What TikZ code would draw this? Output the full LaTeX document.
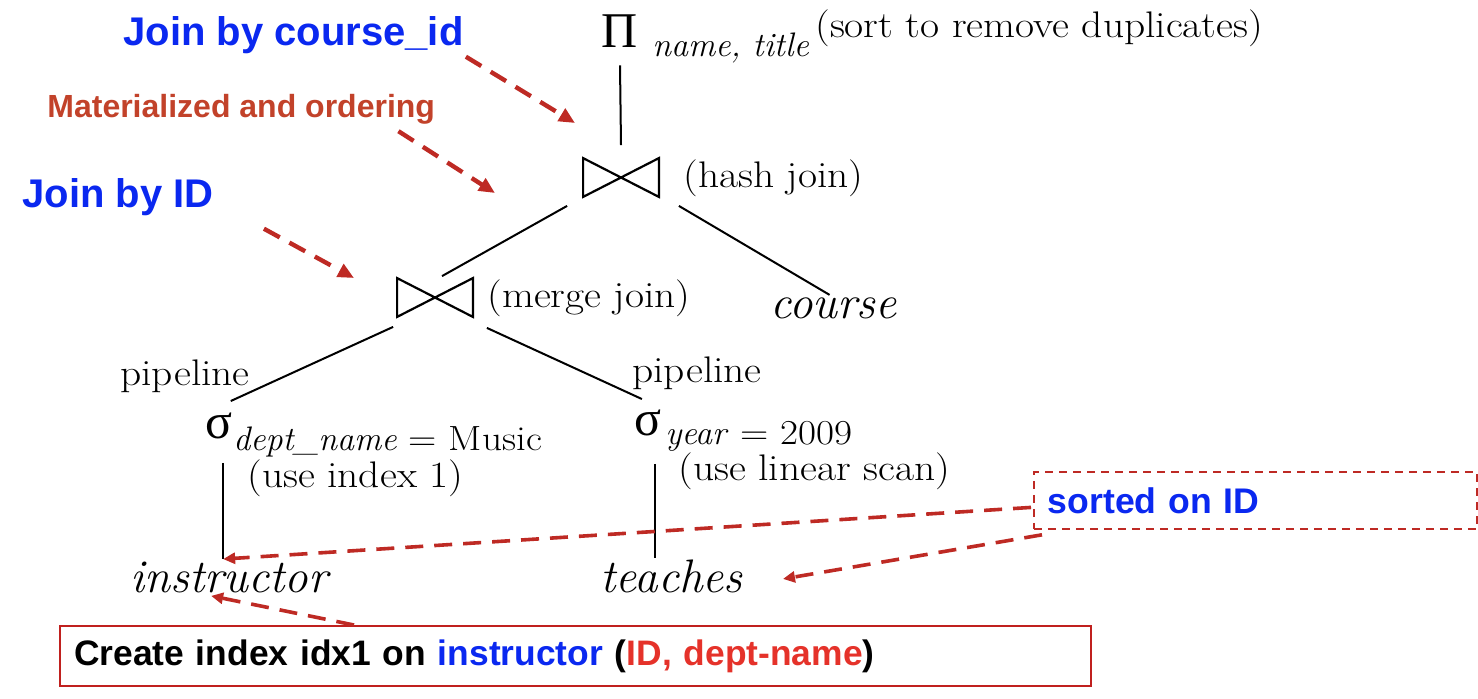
\documentclass[tikz,border=0pt]{standalone}
\usepackage{fontspec}
\newfontfamily\hvfont{Liberation Sans}
\newfontfamily\grfont{Liberation Serif}
\newfontfamily\widefont{Latin Modern Roman}[FakeStretch=1.12]
\usetikzlibrary{arrows.meta}
\definecolor{noteblue}{HTML}{0A28F0}
\definecolor{notebrown}{HTML}{C2422A}
\definecolor{hintred}{HTML}{BE2A24}
\definecolor{idred}{HTML}{E5322A}
\definecolor{boxred}{HTML}{C0201E}
\tikzset{
  note/.style={inner sep=0pt, text=#1, font=\hvfont\bfseries\fontsize{20}{24}\selectfont},
  note/.default=noteblue,
  lbl/.style={inner sep=0pt, font=\widefont\fontsize{18.5}{22}\selectfont},
  sub/.style={inner sep=0pt, font=\fontsize{17}{20}\selectfont},
  rel/.style={inner sep=0pt, font=\itshape\fontsize{23.5}{28}\selectfont},
  op/.style={inner sep=0pt, font=\grfont\fontsize{25}{30}\selectfont},
  joinop/.style={inner sep=0pt, minimum width=37.5pt, minimum height=19pt},
  opline/.style={line width=1.1pt, line join=miter},
  tree/.style={line width=1pt},
  hint/.style={draw=hintred, line width=2.2pt, dash pattern=on 9pt off 5.5pt,
               -{Triangle[length=8pt, width=7pt]}},
  hintb/.style={hint, line width=1.8pt, -{Triangle[length=6pt, width=5.5pt]}},
  cmdbox/.style={draw=boxred, line width=1pt, inner xsep=7pt, text width=501.5pt,
                 minimum height=30pt, align=left,
                 font=\hvfont\bfseries\fontsize{17.7}{22}\selectfont},
  sortbox/.style={draw=hintred, line width=0.9pt, dash pattern=on 4pt off 3pt,
                  inner xsep=7pt, text width=207.5pt, minimum height=28.5pt, align=left,
                  text=noteblue, font=\hvfont\bfseries\fontsize{17.8}{22}\selectfont},
}
\newcommand{\condtext}[2]{\textit{#1}{\widefont\fontsize{17.5}{20}\selectfont{} = #2}}
\begin{document}
\begin{tikzpicture}[x=0.5pt, y=-0.5pt]
  \useasboundingbox (0,0) rectangle (1478,698);

  % projection
  \node[op, anchor=base] (proj) at (620,47) {Π};
  \node[sub, anchor=base west] (projattr) at (652,56) {\textit{name, title}};
  \node[lbl, anchor=base west] (projnote) at (815,37) {(sort to remove duplicates)};

  % joins
  \node[joinop] (hj) at (621,177.5) {};
  \node[lbl, anchor=base west] (hjlbl) at (683,187) {(hash join)};
  \node[joinop] (mj) at (435,297.5) {};
  \node[lbl, anchor=base west] (mjlbl) at (487,307) {(merge join)};
  \foreach \j in {hj,mj}
    \draw[opline] (\j.north west) -- (\j.south east) -- (\j.north east) -- (\j.south west) -- cycle;
  \node[rel, anchor=base west] (course) at (770,318) {course};

  % selections
  \node[lbl, anchor=base west] (pipe1) at (120,385) {pipeline};
  \node[lbl, anchor=base west] (pipe2) at (632,382) {pipeline};
  \node[op, anchor=base west] (sel1) at (205,438) {σ};
  \node[sub, anchor=base west] (cond1) at (233,450) {\condtext{dept\_name}{Music}};
  \node[lbl, anchor=base west] (how1) at (247,487) {(use index 1)};
  \node[op, anchor=base west] (sel2) at (634,435) {σ};
  \node[sub, anchor=base west] (cond2) at (665,444) {\condtext{year}{2009}};
  \node[lbl, anchor=base west] (how2) at (678,480) {(use linear scan)};

  % relations
  \node[rel, anchor=base west] (inst) at (130,592) {instructor};
  \node[rel, anchor=base west] (teaches) at (600,592) {teaches};

  % tree edges
  \draw[tree] ([shift={(0,18)}]proj.south) -- ([shift={(0,-13)}]hj.north);
  \draw[tree] ([shift={(-16,9)}]hj.south west) -- ([shift={(7,-2)}]mj.north);
  \draw[tree] ([shift={(20,9)}]hj.south east) -- ([shift={(-4,-2)}]course.north);
  \draw[tree] ([shift={(-4,10)}]mj.south west) -- ([shift={(-2,-11)}]sel1.north east);
  \draw[tree] ([shift={(14,11)}]mj.south east) -- ([shift={(-6,-10)}]sel2.north);
  \draw[tree] ([shift={(4,24)}]sel1.south) -- ([shift={(4,-2)}]sel1.south |- inst.north);
  \draw[tree] ([shift={(7,28)}]sel2.south) -- ([shift={(7,-1)}]sel2.south |- teaches.north);

  % annotations
  \node[note, anchor=base west] (jc) at (123,45) {Join by course\_id};
  \node[note=notebrown, anchor=base west, font=\hvfont\bfseries\fontsize{16}{19}\selectfont]
    (mat) at (47,117) {Materialized and ordering};
  \node[note, anchor=base west] (jid) at (22,207) {Join by ID};
  \node[sortbox, anchor=north west] (sorted) at (1033,471) {sorted on ID};
  \node[cmdbox, anchor=north west] (cmd) at (59,625)
    {Create index idx1 on \textcolor{noteblue}{instructor} (\textcolor{idred}{ID, dept-name})};

  \coordinate (t1) at (575,123);
  \coordinate (t2) at (495,193);
  \coordinate (t3) at (354,278);
  \draw[hint] ([shift={(2,3)}]jc.south east) -- (t1);
  \draw[hint] ([shift={(-37,7)}]mat.south east) -- (t2);
  \draw[hint] ([shift={(50,13)}]jid.south east) -- (t3);
  \draw[hintb] ([shift={(-2,7)}]sorted.west) -- ([shift={(-6,-2)}]inst.north);
  \draw[hintb] ([shift={(9,5)}]sorted.south west) -- ([shift={(40,3)}]teaches.east);
  \draw[hintb] ([shift={(295,0)}]cmd.north west) -- ([shift={(-18,3)}]inst.south);
\end{tikzpicture}
\end{document}
